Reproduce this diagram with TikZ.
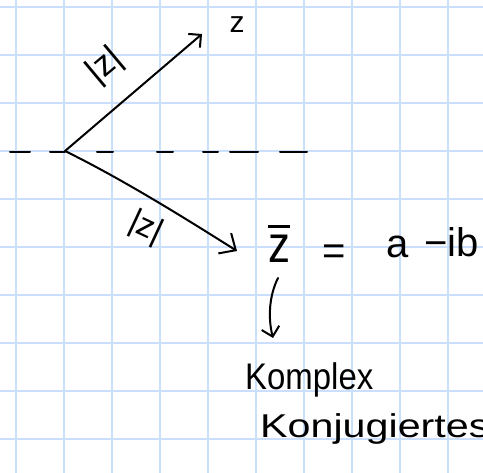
\documentclass[tikz,border=0pt]{standalone}
\usepackage{fontspec}
\setmainfont{Liberation Sans}
\usetikzlibrary{arrows.meta}
\definecolor{gridblue}{RGB}{202,223,252}
\newcommand{\barred}[1]{\vbox{\hrule height 2.2pt\kern 8pt\hbox{#1}}}
\begin{document}
\begin{tikzpicture}[x=1pt,y=-1pt,
  ink/.style={line width=2pt, line cap=round, line join=round, black},
  gridline/.style={gridblue, line width=2pt},
  hand/.style={inner sep=0pt, black},
  smallhead/.style={-{Straight Barb[length=9pt,width=18pt]}},
  bighead/.style={-{Straight Barb[length=13pt,width=24pt]}},
  axisdash/.style={ink, dash pattern=on 20pt off 20pt on 15pt off 32pt on 16pt off 44pt on 16pt off 30pt on 15pt off 12pt on 28pt off 22pt on 27pt off 10pt}
]
\useasboundingbox (0,0) rectangle (483,473);
\clip (0,0) rectangle (483,473);
\fill[white] (0,0) rectangle (483,473);
% grid paper
\foreach \x in {16,64,...,448} \draw[gridline] (\x,0) -- (\x,473);
\foreach \y in {7,55,...,439} \draw[gridline] (0,\y) -- (483,\y);

% points
\coordinate (O) at (65,151);
\coordinate (Z) at (202,34);
\coordinate (Zc) at (237,251);
\coordinate (L) at (10,152);
\coordinate (R) at (307,152);
\coordinate (cs) at (278,278);
\coordinate (ct) at (273,338);

% dashed real axis
\draw[axisdash] (L) -- (R);

% vectors
\draw[ink, smallhead] (O) -- (Z);
\draw[ink, bighead] (O) .. controls (120,178) and (180,215) .. (Zc);

% labels
\node[hand, font=\fontsize{30}{32}\selectfont] (zlab) at (237,25) {z};
\node[hand, font=\fontsize{35}{38}\selectfont, rotate=40] (abs1) at (105,66) {|z|};
\node[hand, font=\fontsize{33}{36}\selectfont, rotate=-25] (abs2) at (146,228) {|z|};

% conjugate equation
\node[hand, font=\fontsize{40}{44}\selectfont, anchor=base] (zbar) at (279,263) {\barred{\scalebox{1.1}[1.3]{z}}};
\node[hand, font=\fontsize{40}{44}\selectfont, anchor=base] (eq) at (334,265) {=};
\node[hand, font=\fontsize{40}{44}\selectfont, anchor=base] (a) at (398,258) {a};
\node[hand, font=\fontsize{40}{44}\selectfont, anchor=base west] (mib) at (424,257) {−ib};

% hook arrow
\draw[ink, smallhead] (cs) .. controls (269,296) and (268,318) .. (ct);

% description
\node[hand, font=\fontsize{37}{40}\selectfont, anchor=base west] (komplex) at (245,390) {\scalebox{0.89}[1]{Komplex}};
\node[hand, font=\fontsize{33}{36}\selectfont, anchor=base west] (konj) at (260,438) {\scalebox{1.25}[1]{Konjugiertes}};
\end{tikzpicture}
\end{document}
